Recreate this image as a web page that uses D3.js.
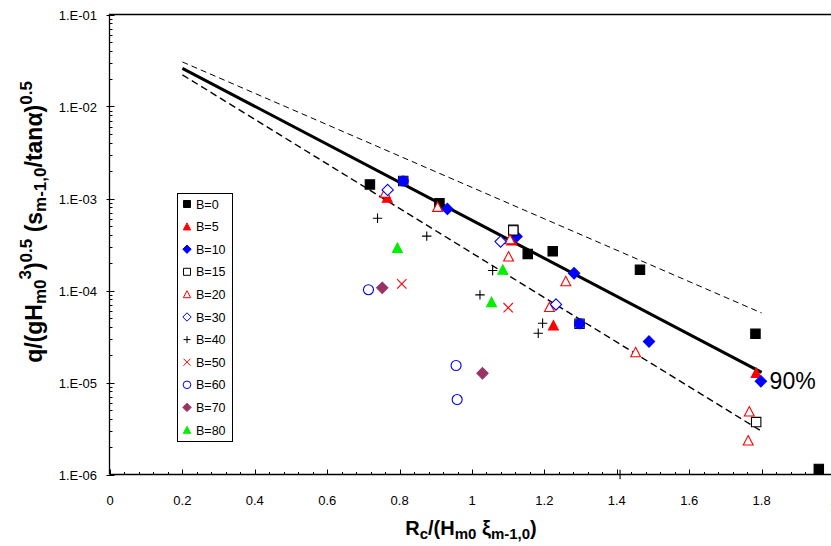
<!DOCTYPE html>
<html><head><meta charset="utf-8">
<script src="https://cdn.jsdelivr.net/npm/d3@7"></script>
<style>
body{margin:0;background:#fff}
svg{display:block;font-family:"Liberation Sans",Arial,Helvetica,sans-serif}
</style>
</head><body>
<svg id="chart" width="831" height="546"></svg>
<script>
// ---------- data ----------
const xTickValues = [0,0.2,0.4,0.6,0.8,1,1.2,1.4,1.6,1.8,2];
const xTickLabels = ["0","0.2","0.4","0.6","0.8","1","1.2","1.4","1.6","1.8","2"];
const yTickValues = [1e-1,1e-2,1e-3,1e-4,1e-5,1e-6];
const yTickLabels = ["1.E-01","1.E-02","1.E-03","1.E-04","1.E-05","1.E-06"];

const legendNames = ["B=0","B=5","B=10","B=15","B=20","B=30","B=40","B=50","B=60","B=70","B=80"];

const B0  = [[0.718,1.42e-3],[0.91,8.9e-4],[1.114,4.57e-4],[1.154,2.5e-4],[1.223,2.67e-4],[1.464,1.68e-4],[1.783,3.38e-5],[1.958,1.15e-6]];
const B5  = [[0.766,1.02e-3],[1.11,3.5e-4],[1.225,4.17e-5],[1.785,1.27e-5]];
const B10 = [[0.932,7.7e-4],[1.123,3.87e-4],[1.282,1.54e-4],[1.489,2.79e-5],[1.798,1.03e-5]];
const B15 = [[0.81,1.55e-3],[1.114,4.5e-4],[1.297,4.35e-5],[1.785,3.71e-6]];
const B20 = [[0.76,1.15e-3],[0.905,8.1e-4],[1.105,3.6e-4],[1.101,2.34e-4],[1.259,1.26e-4],[1.214,6.6e-5],[1.452,2.13e-5],[1.766,4.84e-6],[1.763,2.34e-6]];
const B30 = [[0.767,1.24e-3],[1.079,3.4e-4],[1.232,7.05e-5]];
const B40 = [[0.739,6.1e-4],[0.875,3.9e-4],[1.057,1.65e-4],[1.022,8.97e-5],[1.195,4.4e-5],[1.183,3.43e-5],[1.409,1.0e-6]];
const B50 = [[0.806,1.18e-4],[1.1,6.5e-5]];
const B60 = [[0.714,1.02e-4],[0.956,1.53e-5],[0.959,6.53e-6]];
const B70 = [[0.752,1.07e-4],[1.029,1.26e-5]];
const B80 = [[0.794,2.9e-4],[1.085,1.68e-4],[1.054,7.46e-5]];
const B10dots = [[0.81,1.55e-3],[1.297,4.35e-5]];   // round blue markers (no legend entry)

const lineX     = [0.2, 1.8];
const fitY      = [0.026, 1.29e-5];
const upperY    = [0.0305, 5.7e-5];
const lowerY    = [0.0221, 2.95e-6];
const labelText = "90%";

// ---------- layout ----------
const svg = d3.select("#chart");
const L = 109.5, T = 14.5, B = 474.5, R = 834;
const x = d3.scaleLinear().domain([0,2]).range([110, 834]);
const y = d3.scaleLog().domain([1e-6,1e-1]).range([B, T]);

const styles = {
  "B=0":  {shape:"square",  fill:"#000", stroke:"#000"},
  "B=5":  {shape:"triangle",fill:"#f00", stroke:"#f00"},
  "B=10": {shape:"diamond", fill:"#00f", stroke:"#00f"},
  "B=15": {shape:"square",  fill:"#fff", stroke:"#000"},
  "B=20": {shape:"triangle",fill:"#fff", stroke:"#f00"},
  "B=30": {shape:"diamond", fill:"#fff", stroke:"#00f"},
  "B=40": {shape:"plus",    fill:"none", stroke:"#000"},
  "B=50": {shape:"x",       fill:"none", stroke:"#f00"},
  "B=60": {shape:"circle",  fill:"#fff", stroke:"#00f"},
  "B=70": {shape:"diamond", fill:"#993366", stroke:"#993366"},
  "B=80": {shape:"triangle",fill:"#00f000", stroke:"#00f000"},
  "dot":  {shape:"circle",  fill:"#00f", stroke:"#00f"}
};
const seriesData = {"B=0":B0,"B=5":B5,"B=10":B10,"B=15":B15,"B=20":B20,"B=30":B30,"B=40":B40,"B=50":B50,"B=60":B60,"B=70":B70,"B=80":B80,"dot":B10dots};

function markerPath(shape, s){
  switch(shape){
    case "square": return `M${-s},${-s}H${s}V${s}H${-s}Z`;
    case "triangle": return `M0,${-s*1.05}L${s*1.05},${s*0.95}L${-s*1.05},${s*0.95}Z`;
    case "diamond": return `M0,${-s*1.2}L${s*1.2},0L0,${s*1.2}L${-s*1.2},0Z`;
    case "plus": return `M${-s},0H${s}M0,${-s}V${s}`;
    case "x": return `M${-s},${-s}L${s},${s}M${-s},${s}L${s},${-s}`;
    case "circle": return d3.arc()({innerRadius:0,outerRadius:s,startAngle:0,endAngle:2*Math.PI});
  }
}

// ---------- axes ----------
const gx = svg.append("g");
const xMinor = d3.range(0, 2.0001, 0.04);
gx.selectAll("line.mx").data(xMinor).join("line")
  .attr("x1", d=>Math.round(x(d))+0.5).attr("x2", d=>Math.round(x(d))+0.5)
  .attr("y1", B).attr("y2", B-2.5).attr("stroke","#000").attr("stroke-width",1);
gx.selectAll("line.Mx").data(xTickValues).join("line")
  .attr("x1", d=>Math.round(x(d))+0.5).attr("x2", d=>Math.round(x(d))+0.5)
  .attr("y1", B).attr("y2", B-5).attr("stroke","#000").attr("stroke-width",1);
gx.selectAll("text").data(xTickValues).join("text")
  .attr("x", d=>x(d)).attr("y", B+30).attr("text-anchor","middle")
  .attr("font-size",13).text((d,i)=>xTickLabels[i]);

const gy = svg.append("g");
const yMinor = [];
for(let e=-6;e<-1;e++) for(let k=2;k<=9;k++) yMinor.push(k*Math.pow(10,e));
gy.selectAll("line.my").data(yMinor).join("line")
  .attr("x1", L).attr("x2", L+3)
  .attr("y1", d=>Math.round(y(d))+0.5).attr("y2", d=>Math.round(y(d))+0.5)
  .attr("stroke","#000").attr("stroke-width",1);
gy.selectAll("line.My").data(yTickValues).join("line")
  .attr("x1", L-3).attr("x2", L+5)
  .attr("y1", d=>Math.round(y(d))+0.5).attr("y2", d=>Math.round(y(d))+0.5)
  .attr("stroke","#000").attr("stroke-width",1);
gy.selectAll("text").data(yTickValues).join("text")
  .attr("x", 97).attr("y", d=>y(d)+5).attr("text-anchor","end")
  .attr("font-size",13).text((d,i)=>yTickLabels[i]);

// frame
svg.append("path").attr("d",`M${L},${B}V${T}H${R}`).attr("fill","none").attr("stroke","#000").attr("stroke-width",1.3);
svg.append("line").attr("x1",L).attr("x2",R).attr("y1",B).attr("y2",B).attr("stroke","#000").attr("stroke-width",1.3);

// ---------- lines ----------
const line = d3.line().x(d=>x(d[0])).y(d=>y(d[1]));
svg.append("path").attr("d", line(lineX.map((v,i)=>[v,upperY[i]])))
  .attr("fill","none").attr("stroke","#000").attr("stroke-width",1).attr("stroke-dasharray","6,4");
svg.append("path").attr("d", line(lineX.map((v,i)=>[v,lowerY[i]])))
  .attr("fill","none").attr("stroke","#000").attr("stroke-width",1.4).attr("stroke-dasharray","7,4");
svg.append("path").attr("d", line(lineX.map((v,i)=>[v,fitY[i]])))
  .attr("fill","none").attr("stroke","#000").attr("stroke-width",3);

// ---------- markers ----------
const order = ["B=0","B=5","B=10","B=15","B=20","B=30","B=40","B=50","B=60","B=70","B=80","dot"];
const gm = svg.append("g");
order.forEach(name=>{
  const st = styles[name];
  gm.append("g").selectAll("path").data(seriesData[name]).join("path")
    .attr("transform", d=>`translate(${x(d[0])},${y(d[1])})`)
    .attr("d", markerPath(st.shape, st.shape==="circle"?5:4.7))
    .attr("fill", st.fill).attr("stroke", st.stroke).attr("stroke-width", 1.1);
});

svg.append("text").attr("x", x(1.8)+8).attr("y", y(fitY[1])+17)
  .attr("font-size",23).text(labelText);

// ---------- legend ----------
const lg = svg.append("g");
lg.append("rect").attr("x",177.5).attr("y",193.5).attr("width",55).attr("height",248)
  .attr("fill","#fff").attr("stroke","#000").attr("stroke-width",1);
legendNames.forEach((n,i)=>{
  const cy = 204 + i*22.6;
  const st = styles[n];
  lg.append("path").attr("transform",`translate(187,${cy})`)
    .attr("d", markerPath(st.shape, st.shape==="circle"?3.8:3.5))
    .attr("fill", st.fill).attr("stroke", st.stroke).attr("stroke-width",1);
  lg.append("text").attr("x",196).attr("y",cy+4.5).attr("font-size",12.5).text(n);
});

// ---------- axis titles ----------
const xt = svg.append("text").attr("x",471).attr("y",535).attr("text-anchor","middle")
  .attr("font-size",20).attr("font-weight","bold");
xt.append("tspan").text("R");
xt.append("tspan").attr("font-size",15).attr("dy",4).text("c");
xt.append("tspan").attr("dy",-4).text("/(H");
xt.append("tspan").attr("font-size",15).attr("dy",4).text("m0");
xt.append("tspan").attr("dy",-4).text(" \u03BE");
xt.append("tspan").attr("font-size",15).attr("dy",4).text("m-1,0");
xt.append("tspan").attr("dy",-4).text(")");

const yt = svg.append("text").attr("transform","translate(42,222) rotate(-90)")
  .attr("text-anchor","middle").attr("font-size",23).attr("font-weight","bold");
yt.append("tspan").text("q/(gH");
yt.append("tspan").attr("font-size",17).attr("dy",4).text("m0");
yt.append("tspan").attr("font-size",17).attr("dy",-15).text("3");
yt.append("tspan").attr("dy",11).text(")");
yt.append("tspan").attr("font-size",17).attr("dy",-10).text("0.5");
yt.append("tspan").attr("dy",10).text(" (s");
yt.append("tspan").attr("font-size",17).attr("dy",4).text("m-1,0");
yt.append("tspan").attr("dy",-4).text("/tan\u03B1)");
yt.append("tspan").attr("font-size",17).attr("dy",-10).text("0.5");
</script>
</body></html>
